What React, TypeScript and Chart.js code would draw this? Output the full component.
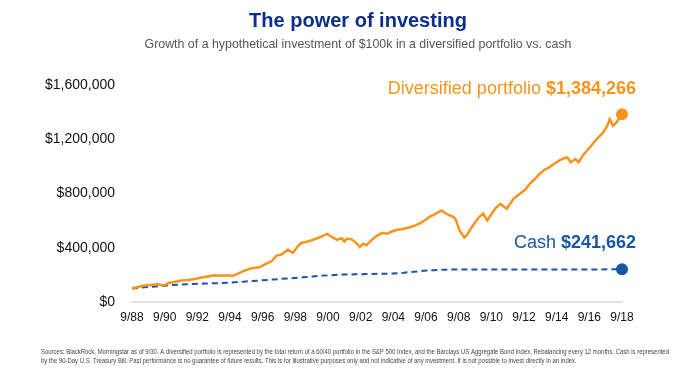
import React, { useEffect, useRef } from "react";
import { Chart, registerables } from "chart.js";

Chart.register(...registerables);

const TITLE = "The power of investing";
const SUBTITLE = "Growth of a hypothetical investment of $100k in a diversified portfolio vs. cash";
const FOOTNOTE_1 =
  "Sources: BlackRock, Morningstar as of 9/30. A diversified portfolio is represented by the total return of a 60/40 portfolio in the S&P 500 Index, and the Barclays US Aggregate Bond Index, Rebalancing every 12 months. Cash is represented";
const FOOTNOTE_2 =
  "by the 90-Day U.S. Treasury Bill. Past performance is no guarantee of future results. This is for illustrative purposes only and not indicative of any investment. It is not possible to invest directly in an index.";

const xTickYears = [1988.75, 1990.75, 1992.75, 1994.75, 1996.75, 1998.75, 2000.75, 2002.75, 2004.75, 2006.75, 2008.75, 2010.75, 2012.75, 2014.75, 2016.75, 2018.75];
const xTickLabels = ["9/88", "9/90", "9/92", "9/94", "9/96", "9/98", "9/00", "9/02", "9/04", "9/06", "9/08", "9/10", "9/12", "9/14", "9/16", "9/18"];

const portfolioDates = [
  1988.75, 1989.1, 1989.5, 1989.9, 1990.3, 1990.7, 1991.0, 1991.4, 1991.8, 1992.2, 1992.6, 1993.0, 1993.4, 1993.8,
  1994.2, 1994.6, 1994.9, 1995.2, 1995.6, 1996.0, 1996.3, 1996.6, 1997.0, 1997.3, 1997.6, 1997.9, 1998.3, 1998.6,
  1998.9, 1999.1, 1999.4, 1999.75, 2000.1, 2000.4, 2000.7, 2001.0, 2001.3, 2001.6, 2001.75, 2001.9, 2002.2, 2002.5,
  2002.7, 2002.9, 2003.1, 2003.3, 2003.6, 2003.9, 2004.1, 2004.4, 2004.7, 2005.0, 2005.4, 2005.8, 2006.1, 2006.4,
  2006.7, 2007.0, 2007.2, 2007.4, 2007.7, 2007.9, 2008.2, 2008.45, 2008.6, 2008.8, 2009.1, 2009.3, 2009.45, 2009.85,
  2010.0, 2010.25, 2010.5, 2010.8, 2011.0, 2011.3, 2011.5, 2011.7, 2012.1, 2012.5, 2012.8, 2013.1, 2013.4, 2013.7,
  2014.0, 2014.3, 2014.6, 2014.9, 2015.2, 2015.4, 2015.6, 2015.9, 2016.1, 2016.35, 2016.6, 2016.85, 2017.1, 2017.35,
  2017.6, 2017.85, 2018.0, 2018.2, 2018.45, 2018.6, 2018.75,
];
const portfolioValues = [
  100000, 110000, 122000, 126000, 131000, 122000, 140000, 150000, 158000, 162000, 170000, 180000, 188000, 197000,
  194000, 198000, 192000, 208000, 230000, 247000, 252000, 259000, 285000, 300000, 342000, 350000, 387000, 362000,
  410000, 435000, 442000, 455000, 470000, 485000, 502000, 478000, 458000, 472000, 445000, 467000, 462000, 432000,
  406000, 430000, 418000, 443000, 475000, 500000, 509000, 504000, 522000, 533000, 540000, 553000, 565000, 582000,
  605000, 631000, 640000, 655000, 675000, 658000, 638000, 626000, 600000, 528000, 475000, 500000, 533000, 602000,
  626000, 651000, 602000, 655000, 690000, 724000, 705000, 688000, 761000, 798000, 825000, 871000, 905000, 944000,
  975000, 993000, 1020000, 1042000, 1060000, 1066000, 1030000, 1054000, 1030000, 1080000, 1115000, 1150000, 1189000, 1220000,
  1250000, 1300000, 1348000, 1299000, 1330000, 1360000, 1384266,
];

const cashDates = [
  1988.75, 1989.5, 1990.2, 1990.9, 1991.6, 1992.4, 1993.2, 1994.0, 1994.8, 1995.6, 1996.5, 1997.4, 1998.3, 1999.2,
  2000.0, 2000.8, 2001.6, 2002.4, 2003.2, 2004.0, 2004.7, 2005.4, 2006.0, 2006.6, 2007.2, 2007.8, 2008.5, 2010.0,
  2012.0, 2014.0, 2016.0, 2017.0, 2018.0, 2018.75,
];
const cashValues = [
  100000, 108000, 115000, 122000, 128000, 132000, 136000, 139000, 143000, 150000, 158000, 166000, 174000, 182000,
  190000, 197000, 202000, 204000, 206000, 208000, 210000, 216000, 223000, 230000, 235000, 238000, 239000, 239000,
  239000, 239000, 239000, 240000, 241000, 241662,
];

const ORANGE = "#F7941D";
const BLUE = "#1B55A3";
const TITLE_BLUE = "#0B2E8C";
const FONT = "'Liberation Sans', Arial, sans-serif";

const fmtMoney = (v: number) => "$" + Math.round(v).toLocaleString("en-US");

const textPlugin = {
  id: "texts",
  afterDraw(chart: any) {
    const ctx = chart.ctx;
    ctx.save();
    ctx.textBaseline = "middle";
    ctx.textAlign = "center";
    ctx.fillStyle = TITLE_BLUE;
    ctx.font = `bold 20px ${FONT}`;
    ctx.fillText(TITLE, 358, 21);
    ctx.fillStyle = "#555555";
    ctx.font = `12.4px ${FONT}`;
    ctx.fillText(SUBTITLE, 358, 45);

    const ys = chart.scales.y;
    const right = 636;
    const drawLabel = (name: string, value: string, y: number, color: string) => {
      ctx.textAlign = "left";
      ctx.font = `bold 18px ${FONT}`;
      const wv = ctx.measureText(value).width;
      ctx.font = `18px ${FONT}`;
      const wn = ctx.measureText(name + " ").width;
      const x0 = right - wv - wn;
      ctx.fillStyle = color;
      ctx.fillText(name + " ", x0, y);
      ctx.font = `bold 18px ${FONT}`;
      ctx.fillText(value, x0 + wn, y);
    };
    const pLast = portfolioValues[portfolioValues.length - 1];
    const cLast = cashValues[cashValues.length - 1];
    drawLabel("Diversified portfolio", fmtMoney(pLast), ys.getPixelForValue(pLast) - 25, ORANGE);
    drawLabel("Cash", fmtMoney(cLast), ys.getPixelForValue(cLast) - 26, BLUE);

    ctx.textAlign = "left";
    ctx.fillStyle = "#444444";
    ctx.font = `7px ${FONT}`;
    const w1 = ctx.measureText(FOOTNOTE_1).width;
    const sx = 628 / w1;
    ctx.save();
    ctx.translate(41, 0);
    ctx.scale(sx, 1);
    ctx.fillText(FOOTNOTE_1, 0, 352);
    ctx.fillText(FOOTNOTE_2, 0, 361);
    ctx.restore();
    ctx.restore();
  },
};

export default function App() {
  const ref = useRef<HTMLCanvasElement | null>(null);
  useEffect(() => {
    if (!ref.current) return;
    const lastP = portfolioValues.length - 1;
    const lastC = cashValues.length - 1;
    const chart = new Chart(ref.current, {
      type: "line",
      data: {
        datasets: [
          {
            label: "Diversified portfolio",
            data: portfolioDates.map((d, i) => ({ x: d, y: portfolioValues[i] })),
            borderColor: ORANGE,
            backgroundColor: ORANGE,
            borderWidth: 2.5,
            pointRadius: (c: any) => (c.dataIndex === lastP ? 6 : 0),
            pointBorderWidth: 0,
            pointHoverRadius: 0,
            tension: 0,
            clip: false,
          },
          {
            label: "Cash",
            data: cashDates.map((d, i) => ({ x: d, y: cashValues[i] })),
            borderColor: BLUE,
            backgroundColor: BLUE,
            borderWidth: 2,
            borderDash: [6, 4],
            pointRadius: (c: any) => (c.dataIndex === lastC ? 6 : 0),
            pointBorderWidth: 0,
            pointHoverRadius: 0,
            tension: 0,
            clip: false,
          },
        ],
      },
      options: {
        responsive: false,
        animation: false,
        events: [],
        layout: { padding: { top: 85, bottom: 45, left: 0, right: 63 } },
        plugins: { legend: { display: false }, tooltip: { enabled: false }, title: { display: false } },
        scales: {
          x: {
            type: "linear",
            min: xTickYears[0],
            max: xTickYears[xTickYears.length - 1],
            afterBuildTicks: (s: any) => {
              s.ticks = xTickYears.map((v) => ({ value: v }));
            },
            afterFit: (s: any) => {
              s.height = 25;
            },
            grid: { display: false, drawTicks: false },
            border: { display: true, color: "#e3e3e3", width: 2 },
            ticks: {
              padding: 8,
              maxRotation: 0,
              autoSkip: false,
              color: "#111111",
              font: { family: FONT, size: 12 },
              callback: (v: any) => {
                const i = xTickYears.indexOf(Number(v));
                return i >= 0 ? xTickLabels[i] : "";
              },
            },
          },
          y: {
            min: 0,
            max: 1600000,
            afterFit: (s: any) => {
              s.width = 132;
            },
            grid: { display: false, drawTicks: false },
            border: { display: false },
            ticks: {
              stepSize: 400000,
              padding: 17,
              color: "#111111",
              font: { family: FONT, size: 14 },
              callback: (v: any) => fmtMoney(Number(v)),
            },
          },
        },
      },
      plugins: [textPlugin],
    } as any);
    return () => chart.destroy();
  }, []);
  return (
    <div style={{ position: "absolute", left: 0, top: 0, width: 685, height: 372, background: "#fff" }}>
      <canvas ref={ref} width={685} height={372} />
    </div>
  );
}
